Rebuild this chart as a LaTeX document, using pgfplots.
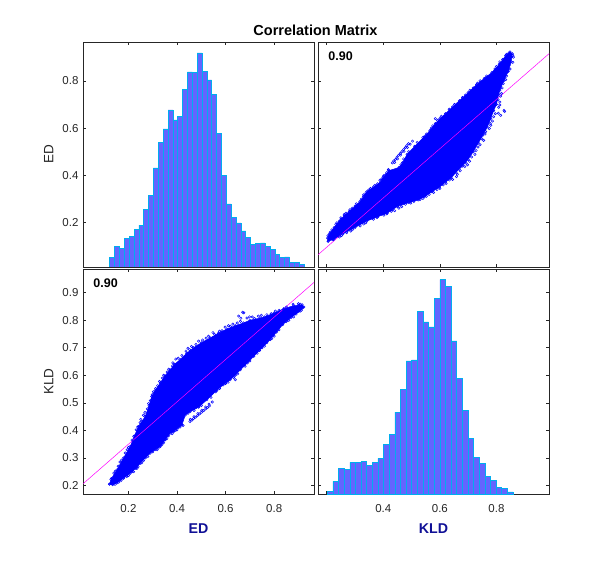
\documentclass[border=0pt]{standalone}
\usepackage{pgfplots}
\pgfplotsset{compat=1.18}
\usepackage{pgfplotstable}
\usepackage{fontspec}
\setmainfont{Liberation Sans}
\definecolor{axgray}{RGB}{38,38,38}
\definecolor{histfill}{RGB}{100,100,255}
\definecolor{labblue}{RGB}{16,16,150}
\definecolor{fitmag}{RGB}{255,0,255}
\definecolor{ptblue}{RGB}{0,0,255}

% scatter cloud outline (ED, KLD)
\pgfplotstableread{
ed kld
0.122 0.205
0.135 0.203
0.152 0.209
0.180 0.226
0.207 0.244
0.230 0.262
0.248 0.280
0.270 0.300
0.289 0.317
0.310 0.330
0.331 0.341
0.352 0.366
0.372 0.390
0.386 0.395
0.405 0.410
0.420 0.419
0.434 0.456
0.454 0.468
0.489 0.484
0.523 0.511
0.564 0.545
0.590 0.565
0.619 0.584
0.640 0.600
0.661 0.620
0.690 0.645
0.716 0.669
0.750 0.700
0.784 0.730
0.810 0.757
0.835 0.784
0.870 0.810
0.907 0.833
0.922 0.848
0.915 0.856
0.880 0.852
0.840 0.842
0.800 0.826
0.760 0.812
0.743 0.808
0.700 0.800
0.674 0.790
0.640 0.780
0.605 0.768
0.570 0.752
0.537 0.736
0.500 0.718
0.468 0.700
0.440 0.680
0.413 0.657
0.390 0.640
0.372 0.620
0.350 0.598
0.331 0.572
0.310 0.545
0.296 0.523
0.285 0.490
0.269 0.450
0.255 0.432
0.241 0.414
0.225 0.380
0.207 0.341
0.180 0.300
0.152 0.256
0.130 0.225
0.122 0.205
}\cloud

% scattered edge points and outliers (ED, KLD)
\pgfplotstableread{
ed kld
0.140 0.245
0.165 0.285
0.195 0.330
0.215 0.365
0.232 0.402
0.248 0.428
0.262 0.455
0.278 0.478
0.290 0.508
0.303 0.540
0.320 0.562
0.340 0.590
0.360 0.612
0.381 0.634
0.395 0.659
0.427 0.663
0.452 0.693
0.445 0.698
0.489 0.724
0.520 0.735
0.555 0.748
0.585 0.762
0.620 0.778
0.654 0.815
0.661 0.796
0.663 0.807
0.670 0.829
0.675 0.827
0.698 0.812
0.720 0.806
0.747 0.818
0.788 0.824
0.820 0.836
0.839 0.839
0.866 0.845
0.894 0.845
0.901 0.854
0.917 0.844
0.900 0.860
0.131 0.207
0.160 0.212
0.193 0.232
0.221 0.250
0.240 0.268
0.262 0.290
0.300 0.322
0.322 0.335
0.345 0.355
0.365 0.380
0.395 0.400
0.412 0.412
0.560 0.540
0.600 0.570
0.633 0.592
0.640 0.584
0.680 0.633
0.730 0.680
0.770 0.718
0.800 0.742
0.850 0.795
0.890 0.822
0.128 0.222
0.146 0.252
0.158 0.270
0.172 0.292
0.187 0.318
0.200 0.338
0.222 0.378
0.238 0.412
0.251 0.440
0.268 0.465
0.283 0.497
0.298 0.530
0.312 0.552
0.328 0.578
0.345 0.600
0.366 0.622
0.383 0.645
0.405 0.662
0.420 0.672
0.437 0.688
0.460 0.705
0.478 0.712
0.505 0.728
0.530 0.742
0.548 0.755
0.575 0.760
0.598 0.775
0.612 0.780
0.630 0.786
0.648 0.790
0.688 0.808
0.710 0.812
0.735 0.815
0.770 0.820
0.805 0.833
0.850 0.848
0.878 0.858
0.908 0.858
0.145 0.204
0.170 0.218
0.200 0.236
0.215 0.250
0.235 0.262
0.255 0.282
0.280 0.305
0.318 0.330
0.338 0.348
0.358 0.370
0.380 0.388
0.400 0.402
0.425 0.418
0.445 0.462
0.470 0.472
0.500 0.490
0.540 0.520
0.575 0.552
0.610 0.575
0.650 0.605
0.700 0.652
0.740 0.690
0.760 0.706
0.790 0.733
0.820 0.765
0.860 0.800
0.880 0.812
0.912 0.836
0.453 0.432
0.461 0.437
0.468 0.443
0.477 0.448
0.485 0.454
0.493 0.460
0.501 0.466
0.510 0.472
0.518 0.478
0.526 0.483
0.534 0.489
0.455 0.440
0.470 0.450
0.486 0.461
0.502 0.473
0.518 0.485
0.532 0.495
0.545 0.503
}\outl

\pgfplotsset{
  panel/.style={
    scale only axis, width=231pt, height=225pt,
    axis line style={draw=axgray, line width=0.7pt},
    tick style={draw=axgray, line width=0.6pt},
    major tick length=3pt, tick align=inside,
    ticklabel style={font=\fontsize{11.5}{13}\selectfont, text=axgray},
    /pgf/number format/assume math mode=true,
    /pgf/number format/fixed, /pgf/number format/precision=1,
    xticklabel style={yshift=-6.5pt},
    yticklabel style={xshift=-1pt},
  },
  edx/.style={xmin=0.013, xmax=0.964, xtick={0.2,0.4,0.6,0.8}},
  edy/.style={ymin=0.013, ymax=0.964, ytick={0.2,0.4,0.6,0.8}},
  kldx/.style={xmin=0.169, xmax=0.986, xtick={0.2,0.4,0.6,0.8}},
  kldy/.style={ymin=0.169, ymax=0.986, ytick={0.2,0.3,0.4,0.5,0.6,0.7,0.8,0.9}},
  xlab/.style={every axis x label/.style={at={(axis description cs:0.5,0)}, anchor=base, yshift=-39.5pt, font=\bfseries\fontsize{14.2}{16}\selectfont, text=labblue}},
  ylab/.style={every axis y label/.style={at={(axis description cs:-0.128,0.5)}, rotate=90, anchor=base, font=\fontsize{13.5}{15}\selectfont, text=axgray}},
  pts/.style={only marks, mark=o, mark size=1.2pt, draw=ptblue, line width=0.5pt},
}

\begin{document}
\begin{tikzpicture}
\path[use as bounding box] (0pt,0pt) rectangle (607pt,560pt);

% top-left: histogram of ED
\begin{axis}[panel, edx, edy, ylab, at={(83pt,293pt)}, anchor=south west,
  xticklabels={}, ylabel={ED}]
\addplot[ybar interval, fill=histfill, draw=cyan, line width=0.6pt] coordinates {
(0.123,0.052) (0.143,0.101) (0.163,0.090) (0.183,0.135) (0.203,0.144)
(0.223,0.173) (0.243,0.190) (0.263,0.255) (0.283,0.314) (0.303,0.432)
(0.323,0.541) (0.343,0.597) (0.363,0.677) (0.383,0.635) (0.403,0.648)
(0.423,0.762) (0.443,0.838) (0.463,0.834) (0.483,0.918) (0.503,0.841)
(0.523,0.804) (0.543,0.741) (0.563,0.579) (0.583,0.399) (0.603,0.280)
(0.623,0.221) (0.643,0.199) (0.663,0.166) (0.683,0.137) (0.703,0.107)
(0.723,0.113) (0.743,0.115) (0.763,0.099) (0.783,0.086) (0.803,0.065)
(0.823,0.052) (0.843,0.056) (0.863,0.034) (0.883,0.034) (0.903,0.023)
(0.923,0.023)};
\end{axis}

% top-right: scatter KLD (x) vs ED (y)
\begin{axis}[panel, kldx, edy, at={(318pt,293pt)}, anchor=south west,
  xticklabels={}, yticklabels={}]
\addplot[draw=ptblue, fill=ptblue, line width=0.5pt] table[x=kld, y=ed] {\cloud};
\addplot[pts] table[x=kld, y=ed] {\cloud};
\addplot[pts] table[x=kld, y=ed] {\outl};
\addplot[fitmag, line width=0.5pt] coordinates {(0.1,-0.007) (1.0,0.929)};
\node[anchor=base west, font=\bfseries\fontsize{12.5}{14}\selectfont] at (axis description cs:0.030,0.920) {0.90};
\end{axis}

% bottom-left: scatter ED (x) vs KLD (y)
\begin{axis}[panel, edx, kldy, xlab, ylab, at={(83pt,66pt)}, anchor=south west,
  xlabel={ED}, ylabel={KLD}]
\addplot[draw=ptblue, fill=ptblue, line width=0.5pt] table[x=ed, y=kld] {\cloud};
\addplot[pts] table[x=ed, y=kld] {\cloud};
\addplot[pts] table[x=ed, y=kld] {\outl};
\addplot[fitmag, line width=0.5pt] coordinates {(0,0.196) (1,0.965)};
\node[anchor=base west, font=\bfseries\fontsize{12.5}{14}\selectfont] at (axis description cs:0.030,0.916) {0.90};
\end{axis}

% bottom-right: histogram of KLD
\begin{axis}[panel, kldx, kldy, xlab, at={(318pt,66pt)}, anchor=south west,
  xticklabels={,0.4,0.6,0.8}, yticklabels={}, xlabel={KLD}]
\addplot[ybar interval, fill=histfill, draw=cyan, line width=0.6pt] coordinates {
(0.2020,0.178) (0.2219,0.215) (0.2418,0.262) (0.2617,0.258) (0.2816,0.284)
(0.3015,0.284) (0.3214,0.287) (0.3413,0.273) (0.3612,0.284) (0.3811,0.298)
(0.4010,0.349) (0.4209,0.386) (0.4408,0.466) (0.4607,0.550) (0.4806,0.652)
(0.5005,0.656) (0.5204,0.831) (0.5403,0.794) (0.5602,0.776) (0.5801,0.878)
(0.6000,0.947) (0.6199,0.922) (0.6398,0.725) (0.6597,0.590) (0.6796,0.473)
(0.6995,0.370) (0.7194,0.302) (0.7393,0.280) (0.7592,0.233) (0.7791,0.218)
(0.7990,0.193) (0.8189,0.188) (0.8388,0.177) (0.8587,0.177)};
\end{axis}

\node[anchor=base, font=\bfseries\fontsize{14.5}{16}\selectfont] at (315.5pt,524.5pt) {Correlation Matrix};
\end{tikzpicture}
\end{document}
